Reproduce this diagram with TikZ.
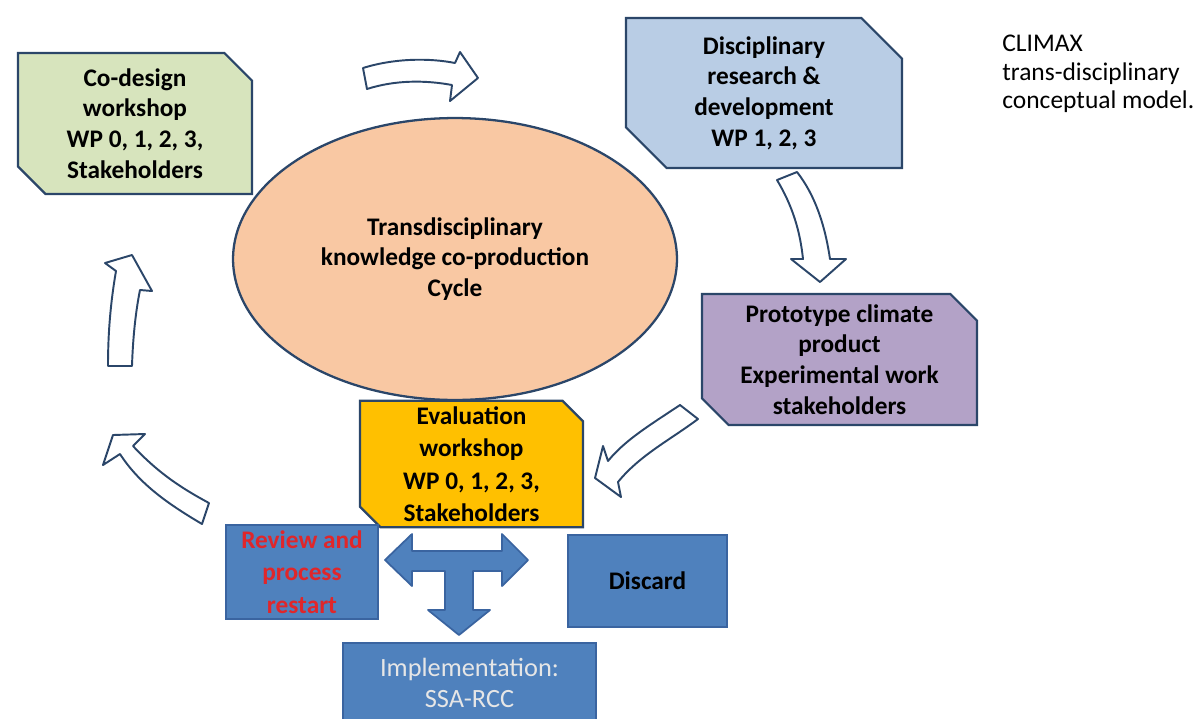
\documentclass[tikz,border=0pt]{standalone}
\usepackage{fontspec}
\setmainfont{Carlito}
\usetikzlibrary{shapes.misc,shapes.geometric}

\definecolor{edgeblue}{HTML}{2B4669}
\definecolor{codegreen}{HTML}{D7E4BD}
\definecolor{discblue}{HTML}{B9CDE5}
\definecolor{protopurple}{HTML}{B3A2C7}
\definecolor{evalorange}{HTML}{FFC000}
\definecolor{cyclepeach}{HTML}{F9C8A3}
\definecolor{boxblue}{HTML}{4F81BD}
\definecolor{boxedge}{HTML}{3A64A0}
\definecolor{reviewred}{HTML}{E0262A}
\definecolor{impltext}{HTML}{E6E6E6}

\begin{document}
\begin{tikzpicture}[
        x=0.02cm, y=-0.02cm,
        every node/.style={align=center, font=\fontsize{14.4}{17.5}\selectfont\bfseries},
        wsbox/.style={draw=edgeblue, line width=1.3pt, chamfered rectangle,
            chamfered rectangle corners={north east,south west}, inner sep=0pt},
        bluebox/.style={draw=boxedge, fill=boxblue, line width=1.2pt, inner sep=0pt},
        hollow/.style={draw=edgeblue, fill=white, line width=1.1pt, line join=round},
        tarrow/.style={draw=boxedge, fill=boxblue, line width=1pt, line join=round}
    ]
        \useasboundingbox (0,0) rectangle (1203,718);

        % cycle in the middle
        \node[ellipse, draw=edgeblue, fill=cyclepeach, line width=1.3pt, minimum width=8.88cm,
            minimum height=5.64cm, inner sep=0pt] (cycle) at (455,259)
            {Transdisciplinary\\knowledge co-production\\Cycle};

        % workshop boxes
        \node[wsbox, fill=codegreen, minimum width=4.68cm, minimum height=2.82cm,
            chamfered rectangle xsep=0.44cm] (codesign) at (135,123.5)
            {Co-design\\workshop\\WP 0, 1, 2, 3,\\Stakeholders};
        \node[wsbox, fill=discblue, minimum width=5.52cm, minimum height=3cm,
            chamfered rectangle xsep=0.7cm] (research) at (764,93)
            {Disciplinary\\research \&\\development\\WP 1, 2, 3};
        \node[wsbox, fill=protopurple, minimum width=5.5cm, minimum height=2.62cm,
            chamfered rectangle xsep=0.42cm] (prototype) at (839.5,359.5)
            {Prototype climate\\product\\Experimental work\\stakeholders};
        \node[wsbox, fill=evalorange, minimum width=4.46cm, minimum height=2.44cm,
            chamfered rectangle xsep=0.3cm, font=\fontsize{14.4}{18.5}\selectfont\bfseries] (evaluation) at (471.5,464)
            {Evaluation\\workshop\\WP 0, 1, 2, 3,\\Stakeholders};

        % outcomes
        \node[bluebox, minimum width=3.04cm, minimum height=1.88cm, text=reviewred,
            font=\fontsize{14.4}{18.5}\selectfont\bfseries] (review) at (302,572)
            {Review and\\process\\restart};
        \node[bluebox, minimum width=3.18cm, minimum height=1.84cm] (discard) at (647.5,581) {Discard};
        \node[bluebox, minimum width=5.06cm, minimum height=1.6cm, text=impltext,
            font=\fontsize{15}{18}\selectfont] (implementation) at (469.5,683)
            {Implementation:\\SSA-RCC};

        % caption
        \node[anchor=north west, align=left, inner sep=0pt, font=\fontsize{14.5}{16}\selectfont]
            (caption) at (1002,35) {CLIMAX\\trans-disciplinary\\conceptual model.};

        % hollow arrows round the cycle
        \draw[hollow] (363,68) .. controls (395,58) and (430,58) .. (455,63) -- (460,52) -- (478,78)
            -- (450,101) -- (452,85) .. controls (425,80) and (395,80) .. (367,89) -- cycle;
        \draw[hollow] (777,180) .. controls (792,205) and (800,230) .. (803,259) -- (791,259) -- (820,282)
            -- (846,259) -- (830,259) .. controls (825,225) and (815,195) .. (797,172) -- cycle;
        \draw[hollow] (680,405) .. controls (650,425) and (625,440) .. (608,461) -- (603,446) -- (595,478)
            -- (621,497) -- (618,482) .. controls (640,455) and (670,440) .. (698,419) -- cycle;
        \draw[hollow] (113,435) -- (145,434) -- (133,446) .. controls (160,475) and (185,490) .. (209,503)
            -- (202,524) .. controls (170,505) and (140,485) .. (120,454) -- (103,465) -- cycle;
        \draw[hollow] (108,366) -- (132,366) .. controls (133,335) and (136,310) .. (140,290) -- (152,291)
            -- (132,255) -- (105,263) -- (116,271) .. controls (111,300) and (108,330) .. (108,366) -- cycle;

        % T-shaped decision arrow
        \draw[tarrow] (385,560) -- (412,534) -- (412,551) -- (502,551) -- (502,534) -- (528,560)
            -- (502,586) -- (502,571) -- (473,571) -- (473,610) -- (490,610) -- (459,635) -- (428,610)
            -- (445,610) -- (445,571) -- (412,571) -- (412,586) -- cycle;
    \end{tikzpicture}
\end{document}
